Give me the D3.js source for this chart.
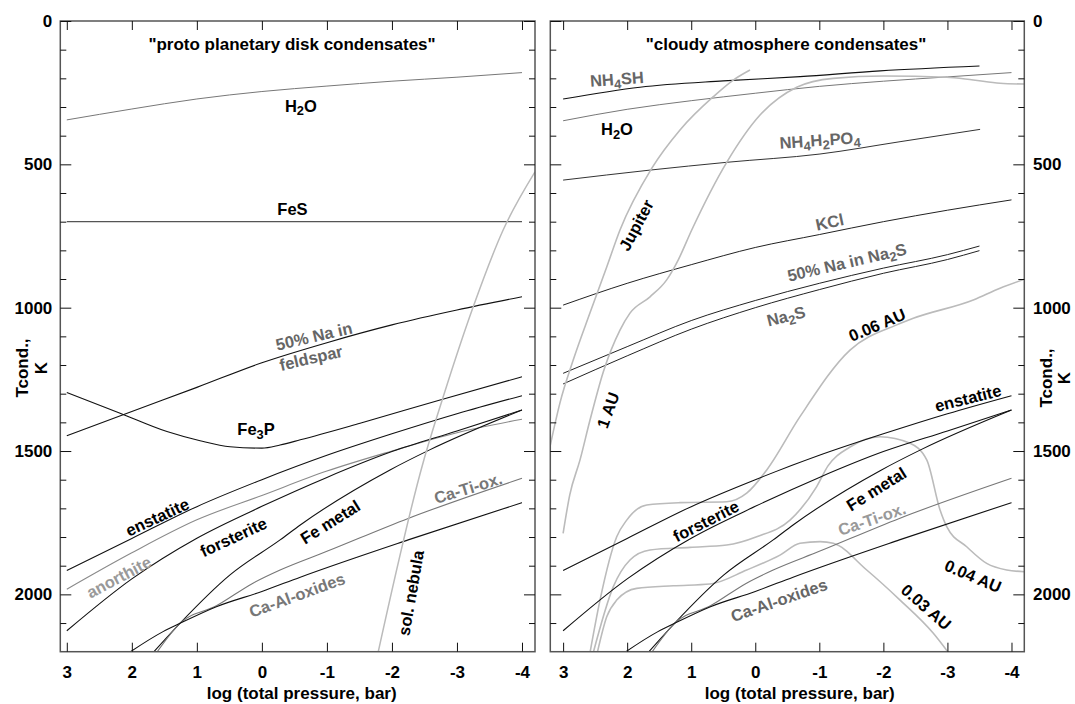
<!DOCTYPE html>
<html><head><meta charset="utf-8">
<script src="https://cdn.jsdelivr.net/npm/d3@7"></script>
<style>
body{margin:0;background:#fff}
text{font-family:"Liberation Sans",Arial,Helvetica,sans-serif;font-weight:bold}
</style>
</head><body>
<svg id="c" width="1075" height="704"></svg>
<script>
// ---------- DATA (log p [bar], T [K]) ----------
const pressureTicks = [3,2,1,0,-1,-2,-3,-4];
const tempMajorTicks = [0,500,1000,1500,2000];
const tempMinorTicks = [100,200,300,400,600,700,800,900,1100,1200,1300,1400,1600,1700,1800,1900,2100];

const h2oDisk    = [[3,345],[2,307],[1,272],[0,246],[-1,227],[-2,210],[-3,196],[-4,180]];
const fes        = [[3,700],[-4,700]];
const naFeldspar = [[3,1447],[2,1362],[1,1278],[0,1192],[-1,1122],[-2,1060],[-3,1008],[-4,962]];
const fe3p       = [[3,1296],[2.18,1368],[1.46,1432],[0.95,1464],[0.49,1485],[0,1490],[-0.28,1479],[-0.59,1461],[-1.51,1403],[-2.74,1322],[-4,1241]];
const enstatite  = [[3,1917],[2,1805],[1,1694],[0,1600],[-1,1515],[-2,1440],[-3,1370],[-4,1307]];
const anorthite  = [[3,1982],[2,1855],[1,1740],[0,1655],[-1,1570],[-2,1500],[-3,1436],[-4,1389]];
const forsterite = [[3,2127],[2,1946],[1,1804],[0,1693],[-1,1592],[-2,1502],[-3,1430],[-4,1357]];
const feMetal    = [[1.72,2215],[1.26,2101],[0.49,1932],[-0.28,1810],[-0.59,1758],[-1.97,1566],[-2.58,1496],[-4,1357]];
const caTiOx     = [[1.64,2210],[1.26,2101],[0.70,2040],[0.13,1960],[-0.28,1915],[-1,1850],[-2.25,1735],[-4,1595]];
const caAlOx     = [[2.1,2212],[1.52,2130],[1.26,2101],[0.70,2043],[0,1990],[-0.59,1940],[-2.25,1810],[-4,1680]];
const solNebula  = [[-1.78,2210],[-2.48,1540],[-2.79,1310],[-3.25,997],[-3.71,729],[-4.2,526]];

const nh4sh      = [[3,272],[1.8,231],[0.5,209],[-0.7,194],[-1.95,174],[-3.5,157]];
const h2oAtm     = [[3,348],[2,308],[1,278],[0,252],[-1,228],[-2,210],[-3,195],[-4,180]];
const nh4h2po4   = [[3,555],[1.64,520],[0.45,493],[-1.01,464],[-2.26,421],[-3.51,378]];
const kcl        = [[3,991],[2,915],[1,850],[0,790],[-1,745],[-2,700],[-3,660],[-4,624]];
const na50Na2S   = [[3,1229],[2,1136],[1,1045],[0,975],[-1,915],[-2,862],[-3,815],[-3.5,785]];
const na2s       = [[3,1266],[2,1168],[1,1075],[0,1000],[-1,937],[-2,880],[-3,832],[-3.5,801]];
const jupiter    = [[3.205,1485],[3.049,1332],[2.841,1182],[2.58,1018],[2.319,858],[2.112,729],[1.617,514],[1.175,380],[0.655,264],[0.343,206],[0.082,171]];
const au1        = [[3.0,1787],[2.896,1653],[2.736,1531],[2.58,1392],[2.373,1224],[2.112,1078],[1.956,1019],[1.643,962],[1.383,903],[1.202,833],[0.992,729],[0.446,493],[-0.074,328],[-0.647,231],[-1.218,200],[-2.0,192],[-2.989,196],[-3.404,206],[-3.821,217],[-4.2,220]];
const au006      = [[2.58,2203],[2.424,2020],[2.163,1799],[2.007,1741],[1.695,1688],[1.175,1680],[0.446,1677],[0.134,1647],[-0.179,1566],[-0.698,1380],[-1.479,1148],[-2.208,1060],[-2.467,1037],[-3.404,973],[-3.821,932],[-4.2,901]];
const au004      = [[2.529,2203],[2.216,1973],[1.956,1880],[1.643,1845],[1.019,1836],[0.446,1828],[-0.022,1799],[-0.542,1741],[-0.959,1624],[-1.135,1552],[-1.479,1486],[-1.948,1450],[-2.416,1473],[-2.677,1531],[-2.885,1706],[-2.989,1764],[-3.301,1834],[-3.613,1892],[-3.926,1915],[-4.2,1921]];
const au003      = [[2.466,2203],[2.319,2078],[2.163,2020],[1.851,1979],[1.28,1970],[0.707,1964],[0.134,1915],[-0.386,1863],[-0.698,1822],[-1.011,1816],[-1.218,1822],[-1.74,1915],[-2.26,2020],[-2.78,2136],[-3.014,2203]];

// label texts ("_n" = subscript n), anchors in data coords [p, T]
const leftLabels = [
  ["H_2O",[-0.6,295]],["FeS",[-0.47,656]],["50% Na in",[-0.80,1099]],["feldspar",[-0.755,1175]],
  ["Fe_3P",[0.09,1423]],["enstatite",[1.61,1730]],["anorthite",[2.20,1939]],["forsterite",[0.44,1800]],
  ["Fe metal",[-1.05,1747]],["Ca-Ti-ox.",[-3.17,1629]],["Ca-Al-oxides",[-0.54,2002]],["sol. nebula",[-2.29,1995]]
];
const rightLabels = [
  ["NH_4SH",[2.16,202]],["H_2O",[2.16,377]],["NH_4H_2PO_4",[-1.01,415]],["KCl",[-1.16,701]],
  ["50% Na in Na_2S",[-1.43,841]],["Na_2S",[-0.48,1029]],["Jupiter",[1.86,712]],["1 AU",[2.30,1357]],
  ["0.06 AU",[-1.90,1060]],["enstatite",[-3.32,1315]],["forsterite",[0.77,1744]],["Fe metal",[-1.89,1632]],
  ["Ca-Ti-ox.",[-1.82,1737]],["Ca-Al-oxides",[-0.37,2020]],["0.04 AU",[-3.40,1936]],["0.03 AU",[-2.67,2044]]
];

// ---------- STYLES / LAYOUT ----------
const BLK = {stroke:"#111", w:1.1};
const lineStyles = {
  h2oDisk:{stroke:"#777",w:1}, fes:{stroke:"#555",w:1.2}, naFeldspar:BLK, fe3p:BLK, enstatite:BLK,
  anorthite:{stroke:"#8a8a8a",w:1.1}, forsterite:BLK, feMetal:BLK, caTiOx:{stroke:"#777",w:1.1}, caAlOx:BLK,
  solNebula:{stroke:"#bbb",w:1.5},
  nh4sh:BLK, h2oAtm:{stroke:"#777",w:1}, nh4h2po4:{stroke:"#333",w:1}, kcl:{stroke:"#222",w:1},
  na50Na2S:{stroke:"#222",w:1}, na2s:{stroke:"#222",w:1},
  jupiter:{stroke:"#bbb",w:1.6}, au1:{stroke:"#bbb",w:1.6}, au006:{stroke:"#bbb",w:1.6},
  au004:{stroke:"#bbb",w:1.6}, au003:{stroke:"#bbb",w:1.6}
};
const labelStyles = {
  L:[{c:"#000",a:0},{c:"#000",a:0},{c:"#666",a:-13},{c:"#666",a:-13},{c:"#000",a:0},{c:"#000",a:-25},
     {c:"#999",a:-28},{c:"#000",a:-25},{c:"#000",a:-32},{c:"#777",a:-17},{c:"#777",a:-20},{c:"#000",a:-80}],
  R:[{c:"#666",a:-4},{c:"#000",a:0},{c:"#666",a:-4},{c:"#666",a:-12},{c:"#666",a:-13},{c:"#666",a:-14},
     {c:"#000",a:-62},{c:"#000",a:-70},{c:"#000",a:-23},{c:"#000",a:-14},{c:"#000",a:-27},{c:"#000",a:-32},
     {c:"#999",a:-19},{c:"#666",a:-19},{c:"#000",a:23},{c:"#000",a:41}]
};

const svg = d3.select("#c");
const y = d3.scaleLinear().domain([0,2200]).range([21,651.7]);

const panels = [
  {id:"L", x:d3.scaleLinear().domain([3.1,-4.2]).range([60.3,535]),
   curves:{h2oDisk,fes,naFeldspar,fe3p,enstatite,anorthite,forsterite,feMetal,caTiOx,caAlOx,solNebula},
   labels:leftLabels, title:"\"proto planetary disk condensates\"", titleX:292, axisTitleX:301.7},
  {id:"R", x:d3.scaleLinear().domain([3.2,-4.2]).range([550.3,1024.3]),
   curves:{nh4sh,h2oAtm,nh4h2po4,kcl,na50Na2S,na2s,jupiter,au1,au006,au004,au003,enstatite,forsterite,feMetal,caTiOx,caAlOx},
   labels:rightLabels, title:"\"cloudy atmosphere condensates\"", titleX:786, axisTitleX:799.7}
];

function addText(g, str, x, yy, size, color, angle, anchor, baseline){
  const t = g.append("text").attr("x",x).attr("y",yy).attr("font-size",size).attr("fill",color)
    .attr("text-anchor",anchor||"middle");
  if (baseline) t.attr("dominant-baseline",baseline);
  if (angle) t.attr("transform",`rotate(${angle},${x},${yy})`);
  const parts = str.split(/_(\d)/);
  let shifted = false;
  parts.forEach((s,i)=>{
    if (!s) return;
    if (i%2===1){ t.append("tspan").attr("font-size",size*0.78).attr("dy",size*0.28).text(s); shifted=true; }
    else { const ts=t.append("tspan").text(s); if(shifted){ ts.attr("dy",-size*0.28); shifted=false; } }
  });
  return t;
}

const plainNum = d => String(d);

panels.forEach(P=>{
  const x = P.x;
  const [x0,x1] = x.range();
  const [y0,y1] = y.range();
  const g = svg.append("g");
  const clipId = "clip"+P.id;
  svg.append("clipPath").attr("id",clipId).append("rect")
    .attr("x",x0).attr("y",y0).attr("width",x1-x0).attr("height",y1-y0);

  const line = d3.line().x(d=>x(d[0])).y(d=>y(d[1])).curve(d3.curveMonotoneX);
  const cg = g.append("g").attr("clip-path",`url(#${clipId})`);
  Object.entries(P.curves).forEach(([name,data])=>{
    const st = lineStyles[name];
    cg.append("path").attr("d",line(data)).attr("fill","none")
      .attr("stroke",st.stroke).attr("stroke-width",st.w).attr("stroke-linejoin","round");
  });

  // frame
  g.append("rect").attr("x",x0).attr("y",y0).attr("width",x1-x0).attr("height",y1-y0)
    .attr("fill","none").attr("stroke","#555").attr("stroke-width",1.5);

  const styleAxis = sel => { sel.select(".domain").remove();
    sel.selectAll("line").attr("stroke","#111");
    sel.selectAll("text").attr("font-size",17).attr("font-family","Liberation Sans, Arial, sans-serif")
      .attr("font-weight","bold").attr("fill","#000"); };

  g.append("g").attr("transform",`translate(0,${y1})`)
    .call(d3.axisBottom(x).tickValues(pressureTicks).tickSize(-9).tickSizeOuter(0).tickPadding(14).tickFormat(plainNum))
    .call(styleAxis);
  g.append("g").attr("transform",`translate(0,${y0})`)
    .call(d3.axisTop(x).tickValues(pressureTicks).tickSize(-9).tickSizeOuter(0).tickFormat(""))
    .call(styleAxis);
  g.append("g").attr("transform",`translate(${x0},0)`)
    .call(d3.axisLeft(y).tickValues(tempMajorTicks).tickSize(-11).tickSizeOuter(0).tickPadding(8)
      .tickFormat(P.id==="L"?plainNum:""))
    .call(styleAxis);
  g.append("g").attr("transform",`translate(${x0},0)`)
    .call(d3.axisLeft(y).tickValues(tempMinorTicks).tickSize(-6).tickSizeOuter(0).tickFormat(""))
    .call(styleAxis);
  g.append("g").attr("transform",`translate(${x1},0)`)
    .call(d3.axisRight(y).tickValues(tempMajorTicks).tickSize(-11).tickSizeOuter(0).tickPadding(8.7)
      .tickFormat(P.id==="R"?plainNum:""))
    .call(styleAxis);
  g.append("g").attr("transform",`translate(${x1},0)`)
    .call(d3.axisRight(y).tickValues(tempMinorTicks).tickSize(-6).tickSizeOuter(0).tickFormat(""))
    .call(styleAxis);

  P.labels.forEach((lb,i)=>{
    const st = labelStyles[P.id][i];
    addText(g, lb[0], x(lb[1][0]), y(lb[1][1]), 16.5, st.c, st.a, "middle", "central");
  });

  addText(g, P.title, P.titleX, 50, 17, "#000", 0, "middle");
  addText(g, "log (total pressure, bar)", P.axisTitleX, 699, 17, "#000", 0, "middle");
});

function yTitle(xb1, xb2, cy){
  svg.append("text").attr("transform",`translate(${xb1},${cy}) rotate(-90)`)
    .attr("text-anchor","middle").attr("font-size",17).text("Tcond.,");
  svg.append("text").attr("transform",`translate(${xb2},${cy}) rotate(-90)`)
    .attr("text-anchor","middle").attr("font-size",17).text("K");
}
yTitle(28, 47, 368);
yTitle(1052, 1070, 378);
</script>
</body></html>
